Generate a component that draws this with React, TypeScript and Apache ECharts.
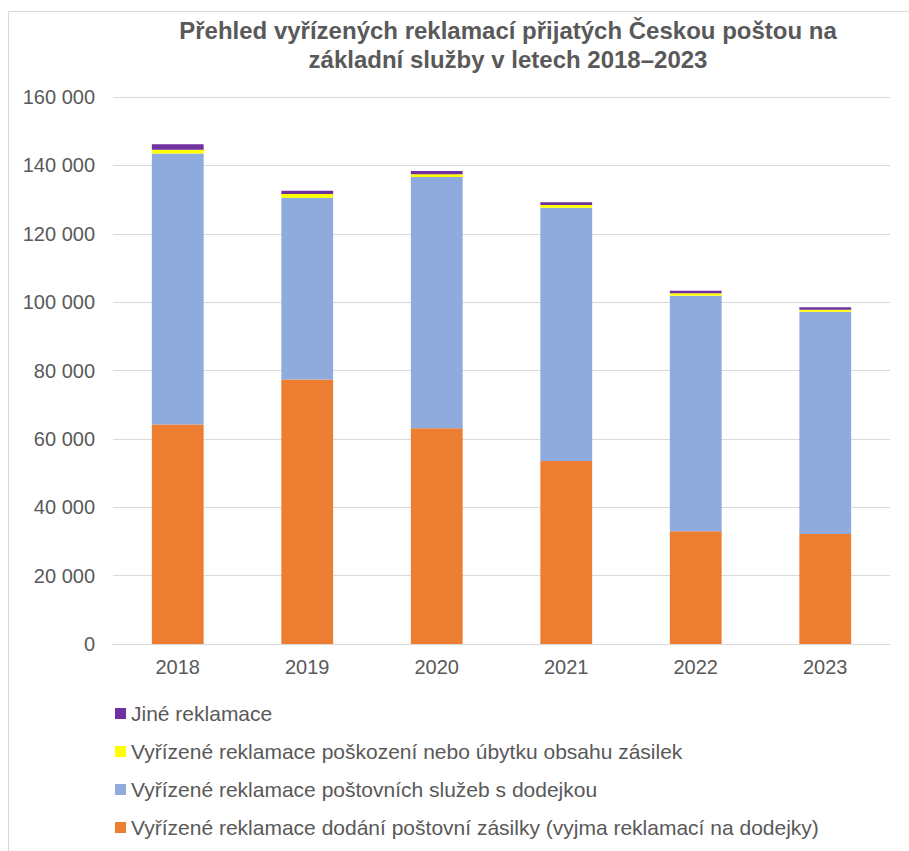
import React, { useEffect, useRef } from "react";
import * as echarts from "echarts";

const years = ["2018", "2019", "2020", "2021", "2022", "2023"];
const dodani = [64200, 77400, 63100, 53500, 33000, 32200];
const dodejky = [79250, 53100, 73500, 74100, 68900, 65000];
const poskozeni = [1150, 1100, 800, 800, 700, 600];
const jine = [1600, 950, 950, 800, 700, 700];
const yTicks = { min: 0, max: 160000, interval: 20000 };

const names = {
  dodani: "Vyřízené reklamace dodání poštovní zásilky (vyjma reklamací na dodejky)",
  dodejky: "Vyřízené reklamace poštovních služeb s dodejkou",
  poskozeni: "Vyřízené reklamace poškození nebo úbytku obsahu zásilek",
  jine: "Jiné reklamace",
};

const FONT = "Liberation Sans, Arial, sans-serif";
const GREY = "#595959";

export default function App() {
  const ref = useRef<HTMLDivElement>(null);
  useEffect(() => {
    if (!ref.current) return;
    const chart = echarts.init(ref.current, null, { renderer: "svg" });
    const fmt = (v: number) => String(v).replace(/\B(?=(\d{3})+(?!\d))/g, " ");
    const mk = (name: string, data: number[], color: string) => ({
      name,
      type: "bar",
      stack: "total",
      data,
      barWidth: "40%",
      itemStyle: { color },
      emphasis: { disabled: true },
    });
    chart.setOption({
      animation: false,
      textStyle: { fontFamily: FONT },
      graphic: [
        {
          type: "rect",
          shape: { x: 8.5, y: 11.5, width: 1200, height: 1200 },
          style: { fill: "none", stroke: "#d9d9d9", lineWidth: 1 },
          silent: true,
        },
        {
          type: "text",
          x: 508,
          y: 30,
          style: {
            text: "Přehled vyřízených reklamací přijatých Českou poštou na",
            font: `bold 24px ${FONT}`,
            fill: GREY,
            textAlign: "center",
            textVerticalAlign: "middle",
          },
        },
        {
          type: "text",
          x: 508,
          y: 59,
          style: {
            text: "základní služby v letech 2018–2023",
            font: `bold 24px ${FONT}`,
            fill: GREY,
            textAlign: "center",
            textVerticalAlign: "middle",
          },
        },
      ],
      grid: { left: 113, right: 19, top: 97, bottom: 851 - 644, containLabel: false },
      xAxis: {
        type: "category",
        data: years,
        axisLine: { lineStyle: { color: "#d9d9d9" } },
        axisTick: { show: false },
        axisLabel: { color: GREY, fontSize: 20, margin: 13, fontFamily: FONT },
      },
      yAxis: {
        type: "value",
        min: yTicks.min,
        max: yTicks.max,
        interval: yTicks.interval,
        axisLine: { show: false },
        axisTick: { show: false },
        splitLine: { lineStyle: { color: "#d9d9d9", width: 1 } },
        axisLabel: { color: GREY, fontSize: 20, margin: 18, fontFamily: FONT, formatter: fmt },
      },
      legend: {
        orient: "vertical",
        left: 115,
        top: 703,
        padding: 0,
        itemWidth: 11,
        itemHeight: 11,
        itemGap: 17,
        icon: "rect",
        data: [names.jine, names.poskozeni, names.dodejky, names.dodani],
        textStyle: { color: GREY, fontSize: 21, lineHeight: 21, fontFamily: FONT, padding: [0, 0, 0, 0] },
        selectedMode: false,
      },
      series: [
        mk(names.dodani, dodani, "#ED7D31"),
        mk(names.dodejky, dodejky, "#8FAADC"),
        mk(names.poskozeni, poskozeni, "#FFFF00"),
        mk(names.jine, jine, "#7030A0"),
      ],
    });
    return () => chart.dispose();
  }, []);
  return (
    <div
      ref={ref}
      style={{ position: "absolute", left: 0, top: 0, width: 909, height: 851, background: "#fff" }}
    />
  );
}
